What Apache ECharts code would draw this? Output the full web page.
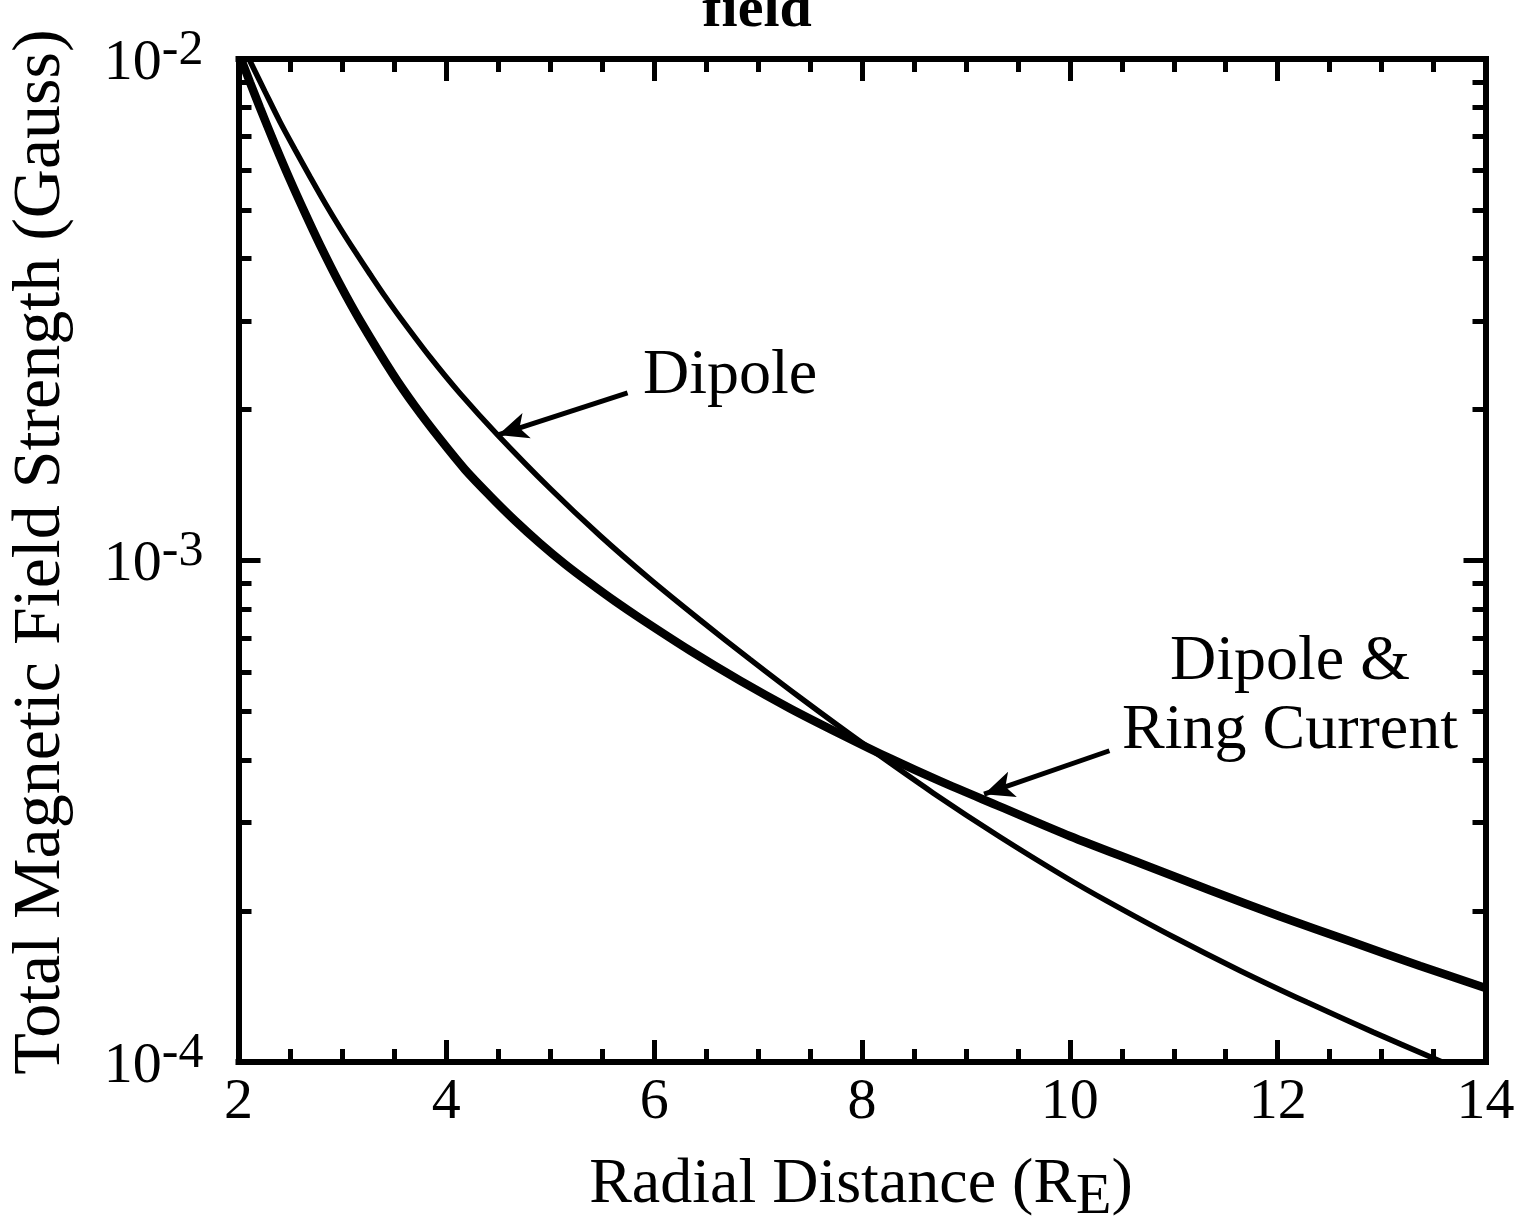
<!DOCTYPE html>
<html>
<head>
<meta charset="utf-8">
<script src="https://cdn.jsdelivr.net/npm/echarts@6/dist/echarts.min.js"></script>
<style>html,body{margin:0;padding:0;background:#fff}#c{width:1514px;height:1221px}</style>
</head>
<body>
<div id="c"></div>
<script>
// Radial distance (R_E) and total field (Gauss)
const dipoleR = [2.101, 2.255, 2.400, 2.545, 2.689, 2.833, 2.978, 3.122, 3.267, 3.411, 3.556, 3.843, 4.132, 4.495, 5.000, 5.479, 5.960, 6.442, 6.923, 7.404, 8.049, 8.684, 9.329, 9.974, 10.359, 10.994, 11.639, 12.284, 12.919, 13.583];
const dipoleB = [1.0e-2, 8.61e-3, 7.49e-3, 6.59e-3, 5.82e-3, 5.16e-3, 4.60e-3, 4.13e-3, 3.72e-3, 3.36e-3, 3.05e-3, 2.545e-3, 2.153e-3, 1.779e-3, 1.391e-3, 1.121e-3, 9.18e-4, 7.61e-4, 6.35e-4, 5.33e-4, 4.255e-4, 3.44e-4, 2.81e-4, 2.325e-4, 2.093e-4, 1.777e-4, 1.521e-4, 1.315e-4, 1.147e-4, 1.0e-4];

const ringR = [2.024, 2.111, 2.207, 2.351, 2.496, 2.640, 2.784, 2.977, 3.169, 3.487, 3.699, 3.939, 4.180, 4.421, 4.661, 4.902, 5.143, 5.383, 5.624, 5.864, 6.346, 6.827, 7.308, 7.789, 8.271, 8.752, 9.329, 10.003, 10.677, 11.350, 12.024, 12.698, 13.372, 14.0];
const ringB = [1.0e-2, 8.98e-3, 7.99e-3, 6.75e-3, 5.74e-3, 4.93e-3, 4.26e-3, 3.55e-3, 3.01e-3, 2.35e-3, 2.03e-3, 1.747e-3, 1.518e-3, 1.345e-3, 1.201e-3, 1.082e-3, 9.83e-4, 9.01e-4, 8.29e-4, 7.67e-4, 6.61e-4, 5.76e-4, 5.07e-4, 4.51e-4, 4.03e-4, 3.63e-4, 3.23e-4, 2.82e-4, 2.49e-4, 2.20e-4, 1.95e-4, 1.74e-4, 1.554e-4, 1.405e-4];

// Axis ticks
const xMin = 2, xMax = 14, xStep = 2;
const yMajor = [1e-4, 1e-3, 1e-2];
const yMinor = [2e-4, 3e-4, 4e-4, 5e-4, 6e-4, 7e-4, 8e-4, 9e-4, 2e-3, 3e-3, 4e-3, 5e-3, 6e-3, 7e-3, 8e-3, 9e-3];

// Annotation arrows: [label end, arrow tip] in data coordinates
const dipoleArrow = [[5.744, 2.16e-3], [4.498, 1.78e-3]];
const ringArrow = [[10.381, 4.175e-4], [9.175, 3.42e-4]];

// Texts
const titleText = 'field';
const xTitle = ['Radial Distance (R', 'E', ')'];
const yTitle = 'Total Magnetic Field Strength (Gauss)';
const dipoleLabel = 'Dipole';
const ringLabel = 'Dipole &\nRing Current';

const FONT = 'Liberation Serif';
const tickStyle = {color: '#000', width: 5};

function xAxisCfg(pos, showLabel) {
  return {
    type: 'value', position: pos, min: xMin, max: xMax, interval: xStep,
    axisLine: {show: true, onZero: false, lineStyle: {color: '#000', width: 6, cap: 'square'}},
    axisTick: {show: true, inside: true, length: 22, lineStyle: tickStyle},
    minorTick: {show: true, splitNumber: 4, length: 13, lineStyle: tickStyle},
    axisLabel: {show: showLabel, color: '#000', fontFamily: FONT, fontSize: 58, margin: 12},
    splitLine: {show: false}, minorSplitLine: {show: false}
  };
}
function yAxisCfg(pos, major, showLabel) {
  return {
    type: 'log', logBase: 10, position: pos, min: 1e-4, max: 1e-2,
    axisLine: {show: major, onZero: false, lineStyle: {color: '#000', width: 6, cap: 'square'}},
    axisTick: {show: true, inside: true, length: major ? 22 : 13, lineStyle: tickStyle,
               customValues: major ? yMajor : yMinor},
    axisLabel: {
      show: showLabel, customValues: yMajor, margin: 35,
      formatter: v => '{b|10}{s|' + Math.round(Math.log10(v)) + '}',
      rich: {
        b: {fontFamily: FONT, fontSize: 58, color: '#000', verticalAlign: 'bottom'},
        s: {fontFamily: FONT, fontSize: 50, color: '#000', verticalAlign: 'bottom', padding: [0, 0, 17, 0]}
      }
    },
    splitLine: {show: false}
  };
}

const chart = echarts.init(document.getElementById('c'), null, {renderer: 'canvas', width: 1514, height: 1221});
const arrowLine = {
  silent: true, animation: false,
  symbol: ['none', 'arrow'],
  lineStyle: {color: '#000', width: 5, type: 'solid'},
  label: {show: false}
};

chart.setOption({
  animation: false,
  backgroundColor: '#fff',
  grid: {left: 238.5, top: 59, width: 1247, height: 1003, containLabel: false, outerBoundsMode: 'none'},
  xAxis: [xAxisCfg('bottom', true), xAxisCfg('top', false)],
  yAxis: [yAxisCfg('left', true, true), yAxisCfg('left', false, false),
          yAxisCfg('right', true, false), yAxisCfg('right', false, false)],
  series: [
    {
      type: 'line', name: 'Dipole', xAxisIndex: 0, yAxisIndex: 0,
      data: dipoleR.map((r, i) => [r, dipoleB[i]]),
      symbol: 'none', smooth: 0.3, clip: true,
      lineStyle: {color: '#000', width: 5.5},
      markLine: Object.assign({}, arrowLine, {
        data: [[{coord: dipoleArrow[0], symbol: 'none'}, {coord: dipoleArrow[1], symbol: 'arrow', symbolSize: [20, 30]}]]
      })
    },
    {
      type: 'line', name: 'Dipole & Ring Current', xAxisIndex: 0, yAxisIndex: 0,
      data: ringR.map((r, i) => [r, ringB[i]]),
      symbol: 'none', smooth: 0.3, clip: true,
      lineStyle: {color: '#000', width: 8.5},
      markLine: Object.assign({}, arrowLine, {
        data: [[{coord: ringArrow[0], symbol: 'none'}, {coord: ringArrow[1], symbol: 'arrow', symbolSize: [20, 30]}]]
      })
    }
  ],
  graphic: [
    {type: 'text', x: 757, y: 11, silent: true,
     style: {text: titleText, fontFamily: FONT, fontWeight: 'bold', fontSize: 58, fill: '#000', align: 'center', verticalAlign: 'middle'}},
    {type: 'text', x: 41, y: 552, rotation: Math.PI / 2, silent: true,
     style: {text: yTitle, fontFamily: FONT, fontSize: 68, fill: '#000', align: 'center', verticalAlign: 'middle'}},
    {type: 'text', x: 861, y: 1190, silent: true,
     style: {text: '{a|' + xTitle[0] + '}{s|' + xTitle[1] + '}{a|' + xTitle[2] + '}', align: 'center', verticalAlign: 'middle',
       rich: {
         a: {fontFamily: FONT, fontSize: 64, fill: '#000', color: '#000', verticalAlign: 'top'},
         s: {fontFamily: FONT, fontSize: 58, fill: '#000', color: '#000', verticalAlign: 'top', padding: [15, 0, 0, 0]}
       }}},
    {type: 'text', x: 643, y: 376, silent: true,
     style: {text: dipoleLabel, fontFamily: FONT, fontSize: 64, fill: '#000', align: 'left', verticalAlign: 'middle'}},
    {type: 'text', x: 1290, y: 697, silent: true,
     style: {text: ringLabel, fontFamily: FONT, fontSize: 64, lineHeight: 69, fill: '#000', align: 'center', verticalAlign: 'middle'}}
  ]
});
</script>
</body>
</html>
